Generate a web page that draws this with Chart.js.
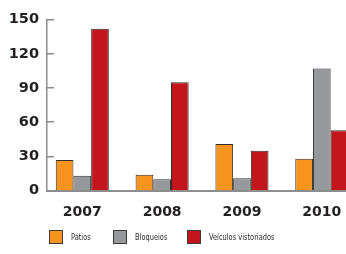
<!DOCTYPE html>
<html><head><meta charset="utf-8">
<script src="https://cdn.jsdelivr.net/npm/chart.js@4"></script>
<style>
html,body{margin:0;padding:0;background:#fff;overflow:hidden}
#wrap{position:relative;width:346px;height:254px}
canvas{display:block}
#legend{position:absolute;left:0;top:0;width:346px;height:254px;pointer-events:none;font-family:"Liberation Sans Narrow","DejaVu Sans Condensed",sans-serif;font-size:9px;color:#231f20}
.item{position:absolute;top:230px;height:14px;display:flex;align-items:center;white-space:nowrap}
.box{box-sizing:border-box;width:14px;height:13.5px;border:1px solid #3a3a3a;margin-right:8px}
.txt{display:inline-block;transform:scaleX(0.82);transform-origin:left center}
</style></head>
<body>
<div id="wrap"><canvas id="c" width="346" height="254"></canvas><div id="legend"></div></div>
<script>
const categories = ['2007', '2008', '2009', '2010'];
const seriesNames = ['Pátios', 'Bloqueios', 'Veículos vistoriados'];
const patios = [27, 14, 41, 28];
const bloqueios = [13, 10, 11, 107];
const veiculos = [142, 95, 35, 53];
const yTicks = [0, 30, 60, 90, 120, 150];
const seriesColors = ['#F7941D', '#97989B', '#C3161C'];

const seriesValues = [patios, bloqueios, veiculos];
const axisGray = '#8d8d8d';
const textColor = '#231f20';

new Chart(document.getElementById('c'), {
  type: 'bar',
  data: {
    datasets: seriesValues.map((vals, k) => ({
      label: seriesNames[k],
      data: vals.map((v, i) => ({ x: i, y: v })),
      backgroundColor: seriesColors[k],
      borderColor: '#2e2e2e',
      borderWidth: 1,
      categoryPercentage: 0.665,
      barPercentage: 1
    }))
  },
  options: {
    responsive: false,
    animation: false,
    layout: { padding: { top: 19.5, bottom: 33.3, left: 10, right: 0 } },
    plugins: { legend: { display: false }, tooltip: { enabled: false } },
    scales: {
      x: {
        type: 'linear',
        offset: false,
        min: -0.442,
        max: 3.303,
        afterBuildTicks: (s) => { s.ticks = categories.map((c, i) => ({ value: i })); },
        afterFit: (s) => { s.height = 30; s.paddingLeft = 0; s.paddingRight = 0; },
        grid: { display: false, drawTicks: false },
        border: { color: axisGray, width: 2 },
        ticks: {
          padding: 13,
          color: textColor,
          font: { family: 'DejaVu Sans', weight: 'bold', size: 14 },
          callback: (v) => categories[v] ?? '',
          autoSkip: false,
          maxRotation: 0
        }
      },
      y: {
        min: 0,
        max: 150,
        afterBuildTicks: (s) => { s.ticks = yTicks.map(v => ({ value: v })); },
        afterFit: (s) => { s.width = 37; s.paddingTop = 0; s.paddingBottom = 0; },
        grid: { drawOnChartArea: false, drawTicks: true, tickLength: -7, color: axisGray, lineWidth: 1.5 },
        border: { color: axisGray, width: 1.5 },
        ticks: {
          padding: 15,
          color: textColor,
          font: { family: 'DejaVu Sans', weight: 'bold', size: 14.5 }
        }
      }
    }
  }
});

const legendLefts = [49, 112.7, 187.3];
const legend = document.getElementById('legend');
seriesNames.forEach((name, k) => {
  const item = document.createElement('div');
  item.className = 'item';
  item.style.left = legendLefts[k] + 'px';
  const box = document.createElement('span');
  box.className = 'box';
  box.style.background = seriesColors[k];
  const t = document.createElement('span');
  t.className = 'txt';
  t.textContent = name;
  item.appendChild(box);
  item.appendChild(t);
  legend.appendChild(item);
});
</script>
</body></html>
